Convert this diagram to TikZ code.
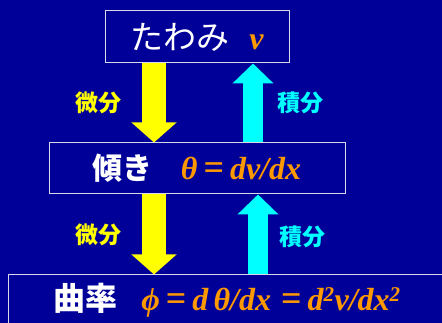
\documentclass[tikz,border=0pt]{standalone}
\usepackage{fontspec}
\setmainfont{Liberation Serif}
\newfontfamily\jp{Noto Sans CJK JP}
\usetikzlibrary{arrows.meta,positioning}
\definecolor{SlideBlue}{HTML}{000099}
\definecolor{EqOrange}{HTML}{FF9900}
\definecolor{DiffYellow}{HTML}{FFFF00}
\definecolor{IntCyan}{HTML}{00FFFF}
\definecolor{FrameGray}{HTML}{D8D8E8}
\newcommand{\eqfont}{\color{EqOrange}\bfseries\itshape\fontsize{32}{34}\selectfont}
\newcommand{\eqsign}{\hspace{6pt}{\upshape\fontsize{36}{36}\selectfont=}\hspace{6pt}}
\newcommand{\sqr}{\textsuperscript{\fontsize{21}{21}\selectfont 2}}
\begin{document}
\begin{tikzpicture}[x=1pt,y=-1pt,
  box/.style={draw=FrameGray, line width=1pt, inner sep=0pt, text=white},
  diffarrow/.style={DiffYellow, line width=24pt, -{Triangle[width=44pt,length=20pt]}},
  intarrow/.style={IntCyan, line width=20pt, -{Triangle[width=40pt,length=20pt]}},
  difflbl/.style={text=DiffYellow, font=\jp\bfseries\fontsize{23}{25}\selectfont},
  intlbl/.style={text=IntCyan, font=\jp\bfseries\fontsize{23}{25}\selectfont}]

% background
\fill[SlideBlue] (0,0) rectangle (442,323);
\clip (0,0) rectangle (442,323);

% boxes
\node[box, minimum width=184pt, minimum height=52pt] (defl) at (197,37)
{{\jp\fontsize{33}{35}\selectfont たわみ}\hspace{20pt}{\eqfont v}};
\node[box, minimum width=296pt, minimum height=51pt] (slope) at (197,168.5)
{{\jp\bfseries\fontsize{30}{32}\selectfont 傾き}\hspace{28pt}{\eqfont θ\eqsign dv/dx}};
\node[box, minimum width=438pt, minimum height=50pt] (curv) at (227,300)
{{\jp\bfseries\fontsize{32}{34}\selectfont 曲率}\hspace{24pt}{\eqfont ϕ\eqsign d\,θ/dx\hspace{4pt}\eqsign d\sqr v/dx\sqr}};

% arrows
\draw[diffarrow] (defl.south -| 154,0) -- (slope.north -| 154,0);
\draw[intarrow] (slope.north -| 253,0) -- (defl.south -| 253,0);
\draw[diffarrow] (slope.south -| 154,0) -- (curv.north -| 154,0);
\draw[intarrow] (curv.north -| 258,0) -- (slope.south -| 258,0);

% labels
\node[difflbl] (d1) at (98,103) {微分};
\node[intlbl] (i1) at (300,103) {積分};
\node[difflbl] (d2) at (98,235) {微分};
\node[intlbl] (i2) at (302,237) {積分};

\end{tikzpicture}
\end{document}
